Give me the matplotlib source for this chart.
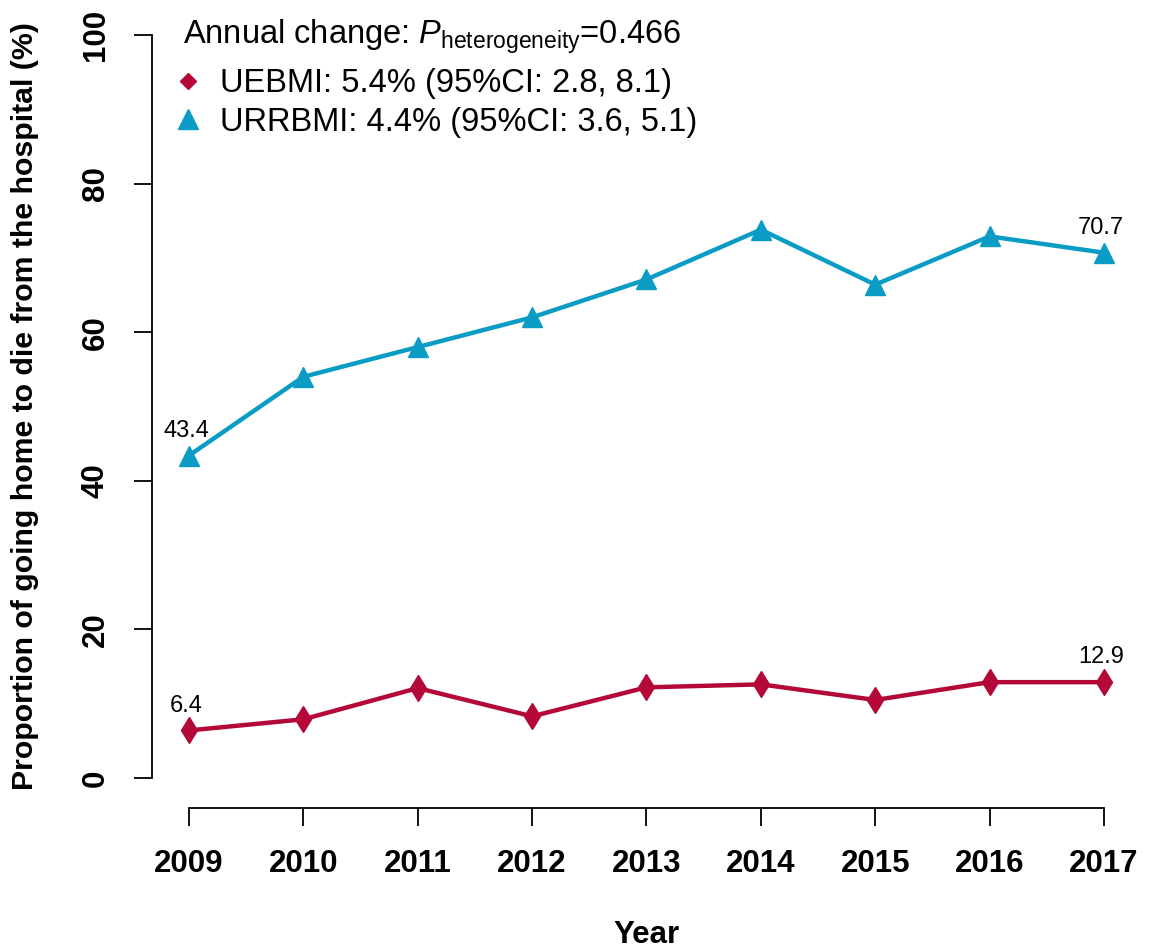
import matplotlib
matplotlib.use("Agg")
import matplotlib.pyplot as plt
from matplotlib.lines import Line2D

plt.rcParams['font.family'] = ['Liberation Sans', 'DejaVu Sans']
plt.rcParams['mathtext.fontset'] = 'custom'
plt.rcParams['mathtext.rm'] = 'Liberation Sans'
plt.rcParams['mathtext.it'] = 'Liberation Sans:italic'

years = [2009, 2010, 2011, 2012, 2013, 2014, 2015, 2016, 2017]
uebmi = [6.4, 7.9, 12.1, 8.3, 12.2, 12.6, 10.5, 12.9, 12.9]
urrbmi = [43.4, 54.0, 58.0, 62.0, 67.1, 73.8, 66.4, 72.9, 70.7]
yticks = [0, 20, 40, 60, 80, 100]

red = '#b30838'
blue = '#0a9cc4'

W, H = 1150, 952
fig = plt.figure(figsize=(W / 100, H / 100), dpi=100)
# plot region in pixels (R style, 4% padding)
left, right, top, bottom = 152.4, 1140.6, 5.3, 807.7
ax = fig.add_axes([left / W, 1 - bottom / H, (right - left) / W, (bottom - top) / H])

ax.plot(years, urrbmi, color=blue, lw=3.2, marker='^', ms=15, mec=blue, mfc=blue)
ax.plot(years, uebmi, color=red, lw=3.2, marker='d', ms=13, mec=red, mfc=red)

# first/last value labels
for series in (uebmi, urrbmi):
    for i in (0, -1):
        ax.annotate(f"{series[i]:.1f}", (years[i], series[i]), xytext=(-2, 10),
                    textcoords='offset points', ha='center', va='bottom', fontsize=17)

ax.set_xlim(2008.68, 2017.32)
ax.set_ylim(-4, 104)
ax.set_xticks(years)
ax.set_yticks(yticks)
for s in ('top', 'right'):
    ax.spines[s].set_visible(False)
ax.spines['left'].set_bounds(0, 100)
ax.spines['bottom'].set_bounds(2009, 2017)
for s in ('left', 'bottom'):
    ax.spines[s].set_linewidth(1.3)
ax.tick_params(length=13, width=1.3, pad=17, labelsize=22.5)
for lab in ax.get_xticklabels():
    lab.set_fontweight('bold')
for lab in ax.get_yticklabels():
    lab.set_fontweight('bold')
    lab.set_rotation(90)
    lab.set_va('center')

ax.set_xlabel('Year', fontsize=22.5, fontweight='bold')
ax.set_ylabel('Proportion of going home to die from the hospital (%)', fontsize=21.8, fontweight='bold')
ax.xaxis.set_label_coords(0.5, (bottom - 935) / (bottom - top))
ax.xaxis.label.set_va('center')
ax.yaxis.set_label_coords((25 - left) / (right - left), 0.5)
ax.yaxis.label.set_va('center')

fig.text(183 / W, 1 - 44 / H, r"Annual change: $P_{\mathrm{heterogeneity}}$=0.466",
         fontsize=23.5, ha='left', va='baseline')

handles = [Line2D([], [], ls='none', marker='D', ms=8, color=red),
           Line2D([], [], ls='none', marker='^', ms=15, color=blue)]
labels = ['UEBMI: 5.4% (95%CI: 2.8, 8.1)', 'URRBMI: 4.4% (95%CI: 3.6, 5.1)']
leg = ax.legend(handles, labels, loc='center left', frameon=False, fontsize=23.5,
                bbox_to_anchor=(176 / W, 1 - 103 / H), bbox_transform=fig.transFigure,
                borderpad=0, handlelength=0.74, handletextpad=0.61, labelspacing=0.22,
                borderaxespad=0)

fig.savefig('out.png', dpi=100)
